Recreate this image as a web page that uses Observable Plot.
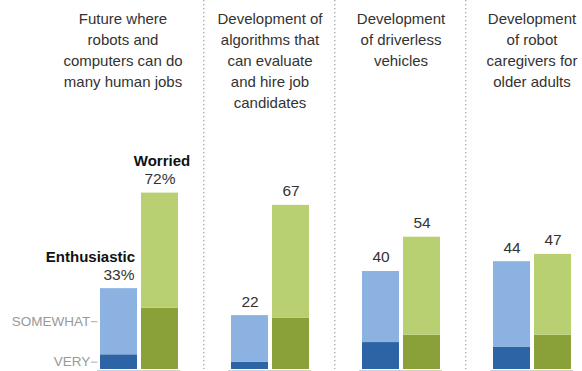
<!DOCTYPE html>
<html><head><meta charset="utf-8">
<script src="https://cdn.jsdelivr.net/npm/d3@7"></script>
<script src="https://cdn.jsdelivr.net/npm/@observablehq/plot@0.6"></script>
<style>body{margin:0;background:#fff}</style>
</head><body><div id="chart"></div>
<script>
const categories = ["jobs", "hiring", "driverless", "caregivers"];
const titles = [
  "Future where\nrobots and\ncomputers can do\nmany human jobs",
  "Development of\nalgorithms that\ncan evaluate\nand hire job\ncandidates",
  "Development\nof driverless\nvehicles",
  "Development\nof robot\ncaregivers for\nolder adults"
];
const groups = ["Enthusiastic", "Worried"];
const enthusiastic = [33, 22, 40, 44];
const enthusiasticVery = [6, 3, 11, 9];
const worried = [72, 67, 54, 47];
const worriedVery = [25, 21, 14, 14];
const levelLabels = ["VERY", "SOMEWHAT"];

const segments = [];
const totals = [];
categories.forEach((c, i) => {
  segments.push({cat: c, group: "Enthusiastic", level: "very", y1: 0, y2: enthusiasticVery[i]});
  segments.push({cat: c, group: "Enthusiastic", level: "somewhat", y1: enthusiasticVery[i], y2: enthusiastic[i]});
  segments.push({cat: c, group: "Worried", level: "very", y1: 0, y2: worriedVery[i]});
  segments.push({cat: c, group: "Worried", level: "somewhat", y1: worriedVery[i], y2: worried[i]});
  totals.push({cat: c, group: "Enthusiastic", value: enthusiastic[i], first: i === 0});
  totals.push({cat: c, group: "Worried", value: worried[i], first: i === 0});
});
const titleRows = categories.map((c, i) => ({cat: c, title: titles[i]}));
const levelRows = [
  {cat: categories[0], label: levelLabels[0], y: enthusiasticVery[0] / 2},
  {cat: categories[0], label: levelLabels[1], y: enthusiasticVery[0] + (enthusiastic[0] - enthusiasticVery[0]) / 2}
];

const font = "'Liberation Sans', Arial, sans-serif";
const chart = Plot.plot({
  width: 582,
  height: 371,
  marginTop: 124,
  marginBottom: 2,
  marginLeft: 98,
  marginRight: 10.5,
  style: {background: "white", fontFamily: font, overflow: "visible"},
  fx: {domain: categories, paddingInner: 0.3945, paddingOuter: 0, axis: null, label: null},
  x: {domain: groups, paddingInner: 0.107, paddingOuter: 0, axis: null, label: null},
  y: {domain: [0, 100], axis: null, label: null},
  color: {
    domain: ["Enthusiastic-very", "Enthusiastic-somewhat", "Worried-very", "Worried-somewhat"],
    range: ["#2d64a6", "#8cb2e1", "#8aa13a", "#b8cf72"]
  },
  marks: [
    Plot.ruleX(categories.slice(0, 3), {fx: d => d, x: () => "Worried", dx: 43.75, insetTop: -124, stroke: "#a5a5a5", strokeWidth: 1.3, strokeDasharray: "1.3,2.7"}),
    Plot.text(titleRows.slice(0, 1), {fx: "cat", text: "title", frameAnchor: "top", lineAnchor: "top", lineHeight: 1.4, dy: -115, dx: -16, fontSize: 15, fill: "#333"}),
    Plot.text(titleRows.slice(1), {fx: "cat", text: "title", frameAnchor: "top", lineAnchor: "top", lineHeight: 1.4, dy: -115, fontSize: 15, fill: "#333"}),
    Plot.barY(segments, {fx: "cat", x: "group", y1: "y1", y2: "y2", fill: d => d.group + "-" + d.level}),
    Plot.ruleY(titleRows, {fx: "cat", y: () => 0, dy: 1, insetLeft: -2, insetRight: -2, stroke: "#d0d0d0"}),
    Plot.text(totals, {fx: "cat", x: "group", y: "value", text: d => d.first ? d.value + "%" : String(d.value), dy: -14, fontSize: 15.5, fill: "#333"}),
    Plot.text(totals.filter(d => d.first && d.group === "Enthusiastic"), {fx: "cat", x: "group", y: "value", text: "group", dy: -31, dx: 16, textAnchor: "end", fontWeight: "bold", fontSize: 15, fill: "#111"}),
    Plot.text(totals.filter(d => d.first && d.group === "Worried"), {fx: "cat", x: "group", y: "value", text: "group", dy: -32, dx: 2, fontWeight: "bold", fontSize: 15, fill: "#111"}),
    Plot.text(levelRows, {fx: "cat", x: () => "Enthusiastic", y: "y", text: "label", textAnchor: "end", dx: -28.75, fontSize: 13.5, fill: "#999"}),
    Plot.tickY(levelRows, {fx: "cat", x: () => "Enthusiastic", y: "y", insetLeft: -9, insetRight: 39.5, stroke: "#aaa"})
  ]
});
document.getElementById("chart").appendChild(chart);
</script>
</body></html>
